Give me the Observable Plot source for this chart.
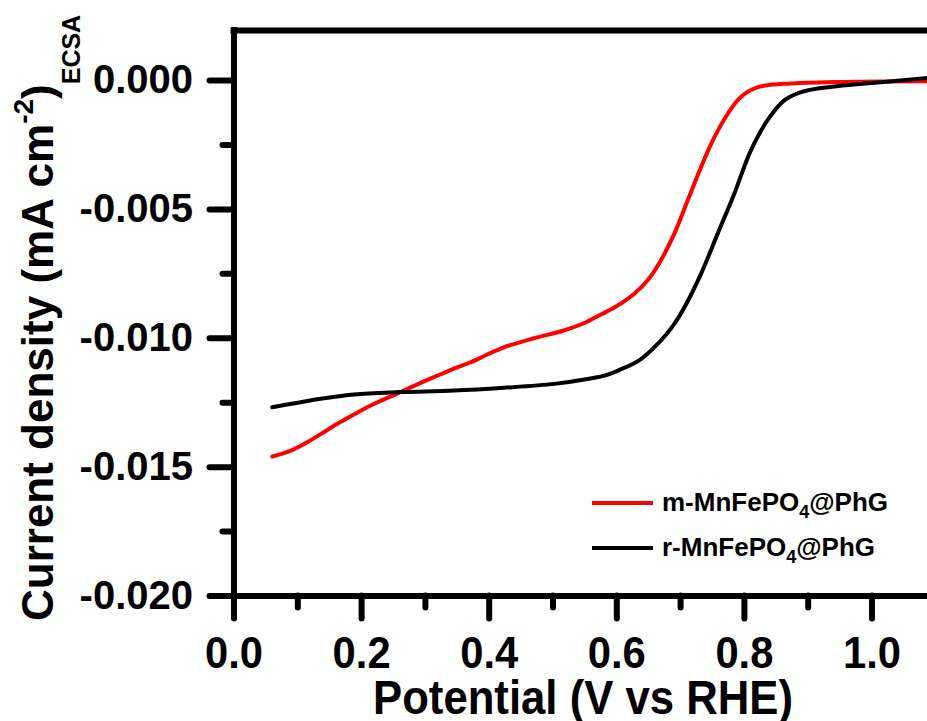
<!DOCTYPE html>
<html>
<head>
<meta charset="utf-8">
<script src="https://cdn.jsdelivr.net/npm/d3@7"></script>
<script src="https://cdn.jsdelivr.net/npm/@observablehq/plot@0.6"></script>
<style>
  html, body { margin: 0; padding: 0; background: #fff; }
  #chart svg { display: block; }
</style>
</head>
<body>
<div id="chart"></div>
<script>
// ---- data ----
const seriesNames = ["m-MnFePO4@PhG", "r-MnFePO4@PhG"];
const seriesColors = ["#ff0000", "#000000"];

const mPotential = [0.060, 0.085, 0.110, 0.136, 0.162, 0.188, 0.214, 0.261, 0.290, 0.319, 0.345, 0.371, 0.397, 0.423, 0.470, 0.517, 0.550, 0.575, 0.600, 0.627, 0.650, 0.669, 0.690, 0.711, 0.732, 0.753, 0.774, 0.794, 0.821, 0.862, 0.940, 1.087];
const mCurrent = [-0.01459, -0.01440, -0.01410, -0.01372, -0.01332, -0.01296, -0.01261, -0.01209, -0.01176, -0.01145, -0.01118, -0.01093, -0.01063, -0.01035, -0.01000, -0.00970, -0.00940, -0.00908, -0.00875, -0.00828, -0.00770, -0.00698, -0.00595, -0.00466, -0.00336, -0.00220, -0.00129, -0.00065, -0.00026, -0.00013, -0.00006, -0.00003];

const rPotential = [0.060, 0.100, 0.136, 0.188, 0.261, 0.345, 0.423, 0.502, 0.554, 0.585, 0.606, 0.635, 0.669, 0.690, 0.706, 0.732, 0.758, 0.784, 0.810, 0.836, 0.862, 0.889, 0.931, 0.975, 1.019, 1.087];
const rCurrent = [-0.01268, -0.01250, -0.01235, -0.01218, -0.01209, -0.01203, -0.01192, -0.01177, -0.01158, -0.01142, -0.01121, -0.01086, -0.01009, -0.00945, -0.00880, -0.00750, -0.00595, -0.00440, -0.00272, -0.00155, -0.00078, -0.00045, -0.00026, -0.00015, -0.00006, 0.00010];

const xTicks = [0.0, 0.2, 0.4, 0.6, 0.8, 1.0];
const xTickLabels = ["0.0", "0.2", "0.4", "0.6", "0.8", "1.0"];
const xMinorTicks = [0.1, 0.3, 0.5, 0.7, 0.9];
const yTicks = [-0.020, -0.015, -0.010, -0.005, 0.000];
const yTickLabels = ["-0.020", "-0.015", "-0.010", "-0.005", "0.000"];
const yMinorTicks = [-0.0175, -0.0125, -0.0075, -0.0025];
const xDomain = [0, 1.087];
const yDomain = [-0.020, 0.00194];

// ---- build table ----
const rows = [];
mPotential.forEach((p, i) => rows.push({series: seriesNames[0], x: p, y: mCurrent[i]}));
rPotential.forEach((p, i) => rows.push({series: seriesNames[1], x: p, y: rCurrent[i]}));

const boldSans = "'Liberation Sans', Arial, sans-serif";

const chart = Plot.plot({
  width: 927,
  height: 721,
  marginLeft: 233.5,
  marginRight: 0,
  marginTop: 30,
  marginBottom: 125.5,
  x: {domain: xDomain, label: null},
  y: {domain: yDomain, label: null},
  color: {domain: seriesNames, range: seriesColors},
  style: {background: "#fff", overflow: "visible"},
  marks: [
    Plot.axisY({ticks: yMinorTicks, tickSize: 11, tickFormat: () => "", label: null, strokeWidth: 6, strokeLinecap: "round", stroke: "#000"}),
    Plot.axisY({ticks: yTicks, tickSize: 24, tickPadding: 17, strokeWidth: 6, strokeLinecap: "round", stroke: "#000",
      tickFormat: d => yTickLabels[yTicks.indexOf(d)], label: null,
      fontSize: 40, fontWeight: "bold", fontFamily: boldSans, fill: "#000"}),
    Plot.axisX({ticks: xMinorTicks, tickSize: 12, tickFormat: () => "", label: null, strokeWidth: 6, strokeLinecap: "round", stroke: "#000"}),
    Plot.axisX({ticks: xTicks, tickSize: 23, tickPadding: 18, strokeWidth: 6, strokeLinecap: "round", stroke: "#000",
      tickFormat: d => xTickLabels[xTicks.indexOf(d)], label: null,
      fontSize: 44, fontWeight: "bold", fontFamily: boldSans, fill: "#000"}),
    Plot.line(rows, {x: "x", y: "y", z: "series", stroke: "series", strokeWidth: 4, curve: "catmull-rom"}),
    Plot.ruleX([xDomain[0]], {stroke: "#000", strokeWidth: 6, strokeLinecap: "square"}),
    Plot.ruleY([yDomain[1]], {stroke: "#000", strokeWidth: 6, strokeLinecap: "square"}),
    Plot.ruleY([yDomain[0]], {stroke: "#000", strokeWidth: 6, strokeLinecap: "square"})
  ]
});

document.getElementById("chart").appendChild(chart);

const svg = d3.select(chart);

// drop the empty labels of the minor-tick axes
svg.selectAll("text").filter(function () { return this.textContent.trim() === ""; }).remove();

// condense the x tick labels like the reference's narrow bold face
svg.selectAll('g[aria-label="x-axis tick label"] text')
  .attr("textLength", 58).attr("lengthAdjust", "spacingAndGlyphs");

// X title
svg.append("text")
  .attr("x", 583).attr("y", 714)
  .attr("text-anchor", "middle")
  .attr("font-family", boldSans).attr("font-weight", "bold").attr("font-size", 48)
  .attr("textLength", 420).attr("lengthAdjust", "spacingAndGlyphs")
  .attr("fill", "#000")
  .text("Potential (V vs RHE)");

// Y title
const yt = svg.append("text")
  .attr("transform", "translate(53,621) rotate(-90)")
  .attr("text-anchor", "start")
  .attr("font-family", boldSans).attr("font-weight", "bold").attr("font-size", 44)
  .attr("fill", "#000");
yt.append("tspan").text("Current density (mA cm");
yt.append("tspan").attr("font-size", 28).attr("dy", -20).text("-2");
yt.append("tspan").attr("dy", 20).text(")");
yt.append("tspan").attr("font-size", 25).attr("dy", 27).text("ECSA");

// Legend
const legendY = [503, 548];
seriesNames.forEach((name, i) => {
  const g = svg.append("g");
  g.append("line")
    .attr("x1", 592).attr("x2", 653).attr("y1", legendY[i]).attr("y2", legendY[i])
    .attr("stroke", seriesColors[i]).attr("stroke-width", 4);
  const t = g.append("text")
    .attr("x", 662).attr("y", legendY[i] + 8)
    .attr("text-anchor", "start")
    .attr("font-family", boldSans).attr("font-weight", "bold").attr("font-size", 26)
    .attr("fill", "#000");
  const parts = name.split("4");
  t.append("tspan").text(parts[0]);
  t.append("tspan").attr("font-size", 18).attr("dy", 7).text("4");
  t.append("tspan").attr("dy", -7).text(parts[1]);
});
</script>
</body>
</html>
